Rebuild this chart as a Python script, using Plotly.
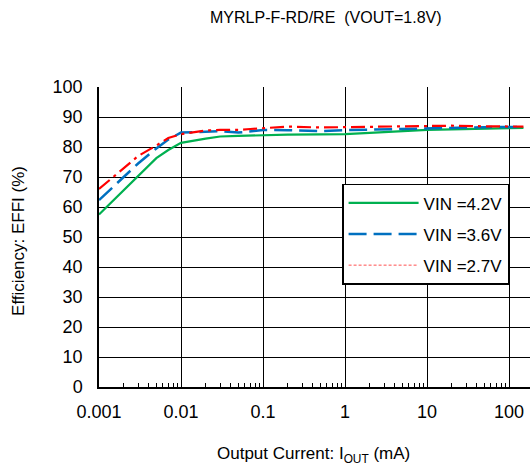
import plotly.graph_objects as go

# Data
current_mA = [0.001, 0.002, 0.003, 0.005, 0.007, 0.01, 0.02, 0.03, 0.05, 0.07,
              0.1, 0.2, 0.5, 1, 2, 5, 10, 20, 50, 100, 150]
eff_vin42 = [57.5, 65.5, 70.5, 76.3, 79.0, 81.4, 82.8, 83.5, 83.7, 83.8,
             84.0, 84.1, 84.2, 84.3, 84.7, 85.3, 85.7, 85.9, 86.1, 86.3, 86.4]
eff_vin36 = [62.3, 70.0, 74.5, 79.5, 82.5, 84.8, 85.1, 85.3, 84.8, 85.3,
             85.7, 85.6, 85.3, 85.6, 85.8, 86.1, 86.3, 86.5, 86.6, 86.7, 86.7]
eff_vin27 = [66.0, 73.0, 77.0, 80.5, 83.0, 84.3, 85.5, 85.7, 85.7, 86.0,
             86.3, 86.8, 86.5, 86.6, 86.6, 86.8, 86.9, 87.1, 86.9, 86.8, 86.8]
series_names = ["VIN =4.2V", "VIN =3.6V", "VIN =2.7V"]
x_tickvals = [0.001, 0.01, 0.1, 1, 10, 100]
x_ticktext = ["0.001", "0.01", "0.1", "1", "10", "100"]
y_tickvals = list(range(0, 101, 10))
minor_tickvals = [m * d for d in x_tickvals for m in range(2, 10)]

FONT = "Liberation Sans, Arial, sans-serif"
GREEN = "#00B050"
BLUE = "#0070C0"
RED = "#FF0000"

fig = go.Figure()
fig.add_trace(go.Scatter(x=current_mA, y=eff_vin42, mode="lines", name=series_names[0],
                         legendgroup="g1",
                         line=dict(color=GREEN, width=2.2)))
fig.add_trace(go.Scatter(x=current_mA, y=eff_vin36, mode="lines", name=series_names[1],
                         legendgroup="g2",
                         line=dict(color=BLUE, width=2.5, dash="18px,7px")))
fig.add_trace(go.Scatter(x=current_mA, y=eff_vin27, mode="lines", name=series_names[2],
                         showlegend=False, legendgroup="g3",
                         line=dict(color=RED, width=2.2, dash="14px,5px,3px,5px")))
# legend-only entry for the 2.7V series (thin dashed sample as in the reference)
fig.add_trace(go.Scatter(x=[None], y=[None], mode="lines", name=series_names[2],
                         legendgroup="g3",
                         line=dict(color="#FF5050", width=1, dash="3px,2px")))

fig.update_layout(
    width=530, height=469,
    margin=dict(l=99, r=0, t=87, b=82),
    paper_bgcolor="white", plot_bgcolor="white",
    font=dict(family=FONT, color="black", size=18),
    showlegend=True,
    legend=dict(x=0.564, y=0.677, xanchor="left", yanchor="top",
                bgcolor="white", bordercolor="black", borderwidth=1.5,
                font=dict(family=FONT, size=17, color="black"),
                itemwidth=70, tracegroupgap=6),
    annotations=[
        dict(text="MYRLP-F-RD/RE  (VOUT=1.8V)", xref="paper", yref="paper",
             x=0.526, y=1.0, yshift=70, xanchor="center", yanchor="middle",
             showarrow=False, font=dict(family=FONT, size=16)),
        dict(text="Output Current: I<sub>OUT</sub> (mA)", xref="paper", yref="paper",
             x=0.497, y=0, yshift=-68, xanchor="center", yanchor="middle",
             showarrow=False, font=dict(family=FONT, size=17)),
        dict(text="Efficiency: EFFI (%)", xref="paper", yref="paper",
             x=0, xshift=-80, y=0.487, xanchor="center", yanchor="middle", textangle=-90,
             showarrow=False, font=dict(family=FONT, size=17)),
    ],
)
fig.update_xaxes(type="log", range=[-3, -3 + 431 / 82],
                 tickvals=x_tickvals, ticktext=x_ticktext,
                 showgrid=True, gridcolor="black", gridwidth=1,
                 showline=True, linecolor="black", linewidth=1.5,
                 ticks="", ticklabelstandoff=8, zeroline=False,
                 minor=dict(ticks="inside", ticklen=4, tickcolor="black", tickwidth=1,
                            tickmode="array", tickvals=minor_tickvals, showgrid=False),
                 tickfont=dict(family=FONT, size=18))
fig.update_yaxes(range=[0, 100], tickvals=y_tickvals,
                 showgrid=True, gridcolor="black", gridwidth=1,
                 showline=True, linecolor="black", linewidth=1.5,
                 ticks="", ticklabelstandoff=11, zeroline=False,
                 tickfont=dict(family=FONT, size=18))

fig.write_html("out.html")
